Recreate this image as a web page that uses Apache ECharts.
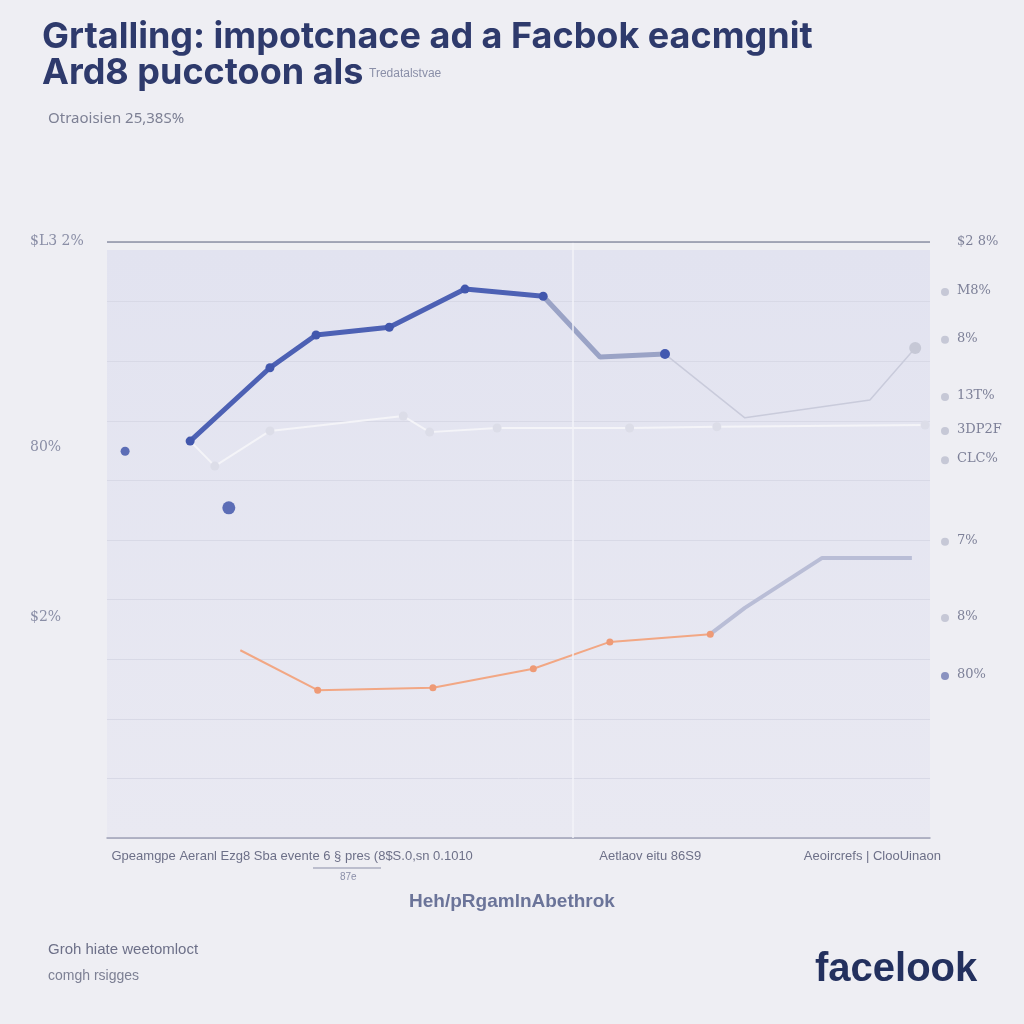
<!DOCTYPE html>
<html><head><meta charset="utf-8">
<script src="https://cdn.jsdelivr.net/npm/echarts@6/dist/echarts.min.js"></script>
<style>html,body{margin:0;padding:0;background:#eeeef3;}#c{width:1024px;height:1024px;}</style>
</head><body><div id="c"></div>
<script>
// ---- data ----
const blueX = [10.1, 19.8, 25.4, 34.3, 43.5, 53.0];
const blueY = [66.6, 78.9, 84.4, 85.7, 92.1, 90.9];
const blueTailX = [53.0, 59.9, 67.8];
const blueTailY = [90.9, 80.7, 81.2];
const grayTailX = [67.8, 77.5, 92.7, 98.2];
const grayTailY = [81.2, 70.5, 73.5, 82.2];
const faintX = [10.1, 13.1, 19.8, 36.0, 39.2, 47.4, 63.5, 74.1, 99.4];
const faintY = [66.6, 62.4, 68.3, 70.8, 68.1, 68.8, 68.8, 69.0, 69.3];
const orangeX = [16.2, 25.6, 39.6, 51.8, 61.1, 73.3];
const orangeY = [31.5, 24.8, 25.2, 28.4, 32.9, 34.2];
const orangeTailX = [73.3, 77.5, 86.9, 97.8];
const orangeTailY = [34.2, 38.6, 47.0, 47.0];
const loneX = [2.2, 14.8];
const loneY = [64.9, 55.4];
const leftTicks = [["$L3 2%", 100], ["80%", 65.3], ["$2%", 36.9]];
const rightTicks = [["$2 8%", 99.8], ["M8%", 91.6], ["8%", 83.6], ["13T%", 74.0], ["3DP2F", 68.3], ["CLC%", 63.4], ["7%", 49.7], ["8%", 36.9], ["80%", 27.2]];
const xLabels = [["Gpeamgpe Aeranl Ezg8 Sba evente 6 § pres (8$S.0,sn 0.1010", 22.5], ["Aetlaov eitu 86S9", 66.0], ["Aeoircrefs | ClooUinaon", 93.0]];

const pts = (xs, ys) => xs.map((x, i) => [x, ys[i]]);
const chart = echarts.init(document.getElementById('c'));
const G = {left: 107, right: 94, top: 242, bottom: 186};
const px = x => G.left + x / 100 * (1024 - G.left - G.right);
const py = y => 1024 - G.bottom - y / 100 * (1024 - G.top - G.bottom);

const graphic = [
  {type: 'rect', z: -1, shape: {x: G.left, y: G.top + 8, width: 1024 - G.left - G.right, height: 1024 - G.top - G.bottom - 8},
   style: {fill: new echarts.graphic.LinearGradient(0, 0, 0, 1, [{offset: 0, color: '#e2e3f0'}, {offset: 1, color: '#e9e9f2'}])}},
  {type: 'text', x: 42, y: 19, style: {text: 'Grtalling: impotcnace ad a Facbok eacmgnit', font: 'bold 36px Inter, "Open Sans", sans-serif', fill: '#2e3a6c'}},
  {type: 'text', x: 42, y: 55, style: {text: 'Ard8 pucctoon als', font: 'bold 36px Inter, "Open Sans", sans-serif', fill: '#2e3a6c'}},
  {type: 'text', x: 369, y: 68, style: {text: 'Tredatalstvae', font: '12px "Liberation Sans Narrow", "Liberation Sans", sans-serif', fill: '#8a8fa8'}},
  {type: 'text', x: 48, y: 111, style: {text: 'Otraoisien 25,38S%', font: '15px "Noto Sans", sans-serif', fill: '#7d8094'}},
  {type: 'text', x: 512, y: 892, style: {text: 'Heh/pRgamlnAbethrok', font: 'bold 19px "Liberation Sans Narrow", "Liberation Sans", sans-serif', fill: '#6b7499', textAlign: 'center'}},
  {type: 'line', shape: {x1: 313, y1: 868, x2: 381, y2: 868}, style: {stroke: '#8a8ea8', lineWidth: 1}},
  {type: 'text', x: 340, y: 872, style: {text: '87e', font: '10px sans-serif', fill: '#8a8ea8'}},
  {type: 'text', x: 48, y: 942, style: {text: 'Groh hiate weetomloct', font: '15px "Liberation Sans Narrow", "Liberation Sans", sans-serif', fill: '#6d7088'}},
  {type: 'text', x: 48, y: 969, style: {text: 'comgh rsigges', font: '14px "Liberation Sans Narrow", "Liberation Sans", sans-serif', fill: '#7d8094'}},
  {type: 'text', x: 815, y: 950, style: {text: 'facelook', font: 'bold 40px "Liberation Sans", Arial, sans-serif', fill: '#23305e'}}
];
leftTicks.forEach(([t, v]) => graphic.push({type: 'text', x: 30, y: py(v) - 8, style: {text: t, font: '14px "DejaVu Serif", serif', fill: '#8a8ea6'}}));
rightTicks.forEach(([t, v], i) => {
  graphic.push({type: 'text', x: 957, y: py(v) - 8, style: {text: t, font: '13px "DejaVu Serif", serif', fill: '#7d8098'}});
  if (i > 0) graphic.push({type: 'circle', shape: {cx: 945, cy: py(v), r: 4}, style: {fill: i === 8 ? '#8a92c0' : '#c6c8d6'}});
});
xLabels.forEach(([t, v]) => graphic.push({type: 'text', x: px(v), y: 850, style: {text: t, font: '13px "Liberation Sans Narrow", "Liberation Sans", sans-serif', fill: '#6d7088', textAlign: 'center'}}));

chart.setOption({
  animation: false,
  backgroundColor: '#eeeef3',
  grid: G,
  graphic,
  xAxis: {type: 'value', min: 0, max: 100, axisLabel: {show: false}, axisTick: {show: false},
    axisLine: {lineStyle: {color: '#9ea1b6', width: 1.5}}, splitLine: {show: false}},
  yAxis: {type: 'value', min: 0, max: 100, interval: 10, axisLabel: {show: false}, axisTick: {show: false},
    axisLine: {show: false}, splitLine: {lineStyle: {color: '#d8d9e6', width: 1}}},
  series: [
    {type: 'line', data: pts(faintX, faintY), symbol: 'circle', symbolSize: 9, showSymbol: true,
      itemStyle: {color: '#dcdde8'}, lineStyle: {color: '#f4f4f8', width: 2}, z: 2,
      markLine: {silent: true, symbol: 'none', label: {show: false},
        data: [{xAxis: 56.6, lineStyle: {color: '#f3f3f8', width: 1.5, type: 'solid'}},
               {yAxis: 100, lineStyle: {color: '#8d90a5', width: 1.5, type: 'solid'}}]}},
    {type: 'line', data: pts(grayTailX, grayTailY), symbol: 'circle', symbolSize: (v, p) => p.dataIndex === 3 ? 12 : 0,
      itemStyle: {color: '#c6c8d6'}, lineStyle: {color: '#c9cbdb', width: 1.5}, z: 3},
    {type: 'line', data: pts(blueTailX, blueTailY), symbol: 'circle', symbolSize: (v, p) => p.dataIndex === 2 ? 10 : 0,
      itemStyle: {color: '#4258b0'}, lineStyle: {color: '#9aa3c6', width: 5}, z: 4},
    {type: 'line', data: pts(blueX, blueY), symbol: 'circle', symbolSize: 9,
      itemStyle: {color: '#4257ad'}, lineStyle: {color: '#4d61b4', width: 5}, z: 5},
    {type: 'line', data: pts(orangeTailX, orangeTailY), symbol: 'none',
      lineStyle: {color: '#b9bdd6', width: 4}, z: 3},
    {type: 'line', data: pts(orangeX, orangeY), symbol: 'circle', symbolSize: (v, p) => p.dataIndex === 0 ? 0 : 7,
      itemStyle: {color: '#ee9a76'}, lineStyle: {color: '#f2a784', width: 2}, z: 4},
    {type: 'scatter', data: pts(loneX, loneY), symbolSize: (v, p) => p.dataIndex === 0 ? 9 : 13, itemStyle: {color: '#3a4fa8'}, z: 6}
  ]
});
</script></body></html>
